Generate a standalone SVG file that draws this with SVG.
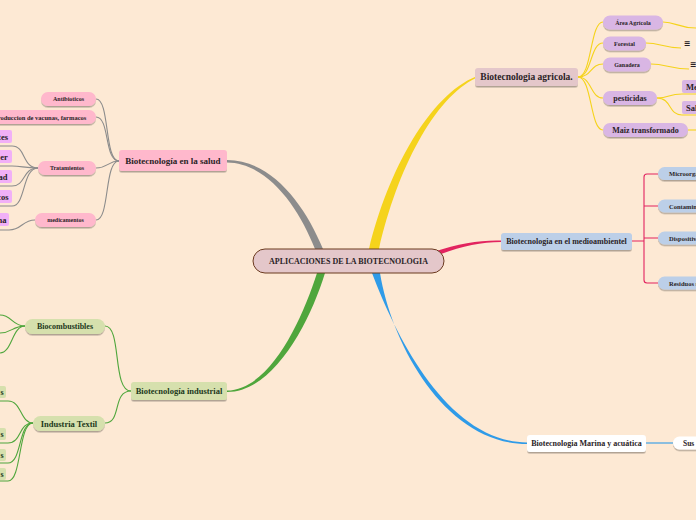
<svg xmlns="http://www.w3.org/2000/svg" width="696" height="520" viewBox="0 0 696 520">
<defs>
<filter id="sh" x="-10%" y="-30%" width="120%" height="170%">
<feDropShadow dx="0" dy="1.5" stdDeviation="0.7" flood-color="#000" flood-opacity="0.3"/>
</filter>
<style>
text{font-family:"Liberation Serif","Times New Roman",serif;font-weight:bold;text-anchor:middle;dominant-baseline:central;fill:#2a2326}
.pk{fill:#ffb8cc;filter:url(#sh)}
.vi{fill:#f1b0f7}
.gr{fill:#d6e0ad;filter:url(#sh)}
.grb{fill:#d6e0ad}
.li{fill:#d9b6e4;filter:url(#sh)}
.lib{fill:#d9b6e4}
.bl{fill:#bccfe8;filter:url(#sh)}
.wh{fill:#ffffff;filter:url(#sh)}
.mv{fill:#e4c7ca;filter:url(#sh)}
.c{fill:none;stroke-width:1.1}
.cg{stroke:#8c8c8c}
.cy{stroke:#f5d31c}
.cr{stroke:#e2245f}
.cn{stroke:#4fa63c}
.cb{stroke:#2f9be8}
.gt text{fill:#22391c}
</style>
</defs>
<rect x="0" y="0" width="696" height="520" fill="#fde9d4"/>

<g id="connectors">
<path d="M227,160 C272,160 305,205 323,249 L315,249 C299,208 268,163 227,162.5 Z" fill="#8c8c8c"/>
<path d="M369,249 C388,170 430,95 476,76.5 L476,78 C434,98 397,170 379,249 Z" fill="#f5d31c"/>
<path d="M433,252 C460,243 480,240 501,240.5 L501,242 C482,242 462,246 441,254 Z" fill="#e2245f"/>
<path d="M317,273 C302,320 270,390 227,390.5 L227,392 C274,392 310,322 325,273 Z" fill="#4fa63c"/>
<path d="M372,273 C398,342 450,442 527,442.5 L527,444 C446,444 392,346 380,273 Z" fill="#2f9be8"/>

<path class="c cg" d="M119,161 C104,161 110,99 96,99"/>
<path class="c cg" d="M119,161 C104,161 110,117 96,117"/>
<path class="c cg" d="M119,161 C108,161 108,168 96,168"/>
<path class="c cg" d="M119,161 C104,161 110,220 96,220"/>
<path class="c cg" d="M38,168 C22,168 26,146 12,146 L0,146"/>
<path class="c cg" d="M38,168 C24,168 22,166 12,166 L0,166"/>
<path class="c cg" d="M38,168 C22,168 26,186 12,186 L0,186"/>
<path class="c cg" d="M38,168 C22,168 26,206 12,206 L0,206"/>
<path class="c cg" d="M35,220 C22,220 22,230 9,230 L0,230"/>

<path class="c cn" d="M131,391 C112,391 122,326 105,326"/>
<path class="c cn" d="M131,391 C112,391 122,423 105,423"/>
<path class="c cn" d="M25,326 C12,326 12,315 0,315"/>
<path class="c cn" d="M25,326 C12,326 12,333 0,333"/>
<path class="c cn" d="M25,326 C12,326 12,353 0,353"/>
<path class="c cn" d="M33,423 C20,423 22,401 8,401 L0,401"/>
<path class="c cn" d="M33,423 C18,423 22,443 8,443 L0,443"/>
<path class="c cn" d="M33,423 C18,423 22,463 8,463 L0,463"/>
<path class="c cn" d="M33,423 C18,423 22,481 8,481 L0,481"/>

<path class="c cy" d="M578,77 C592,77 590,22 603,22"/>
<path class="c cy" d="M578,77 C592,77 590,43 603,43"/>
<path class="c cy" d="M578,77 C592,77 590,64 603,64"/>
<path class="c cy" d="M578,77 C592,77 590,98 603,98"/>
<path class="c cy" d="M578,77 C592,77 590,130 603,130"/>
<path class="c cy" d="M663,22 C676,22 678,28 696,28"/>
<path class="c cy" d="M646,43 C660,43 664,48 681,48"/>
<path class="c cy" d="M651,64 C666,64 670,69 689,69"/>
<path class="c cy" d="M657,98 C670,98 668,94 682,94 L696,94"/>
<path class="c cy" d="M657,98 C672,98 668,115 682,115 L696,115"/>
<path class="c cy" d="M688,130 L696,130"/>

<path class="c cr" d="M632,241 L644,241 M658,174 L647,174 Q644,174 644,177 L644,280 Q644,283 647,283 L658,283 M644,206 L658,206 M644,238 L658,238"/>

<path class="c cb" d="M646,443 L673,443"/>
</g>

<g id="central">
<rect x="253" y="249" width="191" height="24" rx="12" fill="#e4c7ca" stroke="#6b3a1f" stroke-width="1"/>
<text x="348.5" y="261" font-size="8">APLICACIONES DE LA BIOTECNOLOGIA</text>
</g>

<g id="salud">
<rect class="pk" x="119" y="150" width="108" height="21" rx="3"/>
<text x="173" y="161" font-size="9">Biotecnología en la salud</text>
</g>
<g id="antibioticos"><rect class="pk" x="41" y="92" width="55" height="14" rx="7"/><text x="68.5" y="99" font-size="6">Antibioticos</text></g>
<g id="vacunas"><rect class="pk" x="-20" y="110" width="116" height="14" rx="7"/><text x="40" y="117" font-size="6.5">Produccion de vacunas, farmacos</text></g>
<g id="tratamientos"><rect class="pk" x="38" y="161" width="58" height="14" rx="7"/><text x="67" y="168" font-size="6">Tratamientos</text></g>
<g id="medicamentos"><rect class="pk" x="35" y="213" width="61" height="14" rx="7"/><text x="65.5" y="220" font-size="6">medicamentos</text></g>
<g id="trat1"><rect class="vi" x="-20" y="130" width="32" height="13" rx="2"/><text x="3" y="136.5" font-size="8.5">tes</text></g>
<g id="trat2"><rect class="vi" x="-20" y="150" width="32" height="13" rx="2"/><text x="4" y="156.5" font-size="8.5">er</text></g>
<g id="trat3"><rect class="vi" x="-20" y="170" width="32" height="13" rx="2"/><text x="3" y="176.5" font-size="8.5">ad</text></g>
<g id="trat4"><rect class="vi" x="-20" y="190" width="32" height="13" rx="2"/><text x="3" y="196.5" font-size="8.5">cos</text></g>
<g id="med1"><rect class="vi" x="-20" y="213" width="29" height="13" rx="2"/><text x="2" y="219.5" font-size="8.5">na</text></g>

<g id="industrial" class="gt">
<rect class="gr" x="131" y="382" width="96" height="18" rx="3"/>
<text x="179" y="391" font-size="8.5">Biotecnología industrial</text>
</g>
<g id="biocombustibles" class="gt"><rect class="gr" x="25" y="319" width="80" height="15" rx="7.5"/><text x="65" y="326.5" font-size="8">Biocombustibles</text></g>
<g id="textil" class="gt"><rect class="gr" x="33" y="416" width="72" height="15" rx="7.5"/><text x="69" y="423.5" font-size="8.5">Industria Textil</text></g>
<g id="tex1" class="gt"><rect class="grb" x="-20" y="386" width="26" height="12" rx="2"/><text x="2" y="392" font-size="8">s</text></g>
<g id="tex2" class="gt"><rect class="grb" x="-20" y="428" width="26" height="12" rx="2"/><text x="2" y="434.5" font-size="8">s</text></g>
<g id="tex3" class="gt"><rect class="grb" x="-20" y="449" width="26" height="12" rx="2"/><text x="2" y="455" font-size="8">s</text></g>
<g id="tex4" class="gt"><rect class="grb" x="-20" y="468" width="26" height="12" rx="2"/><text x="2" y="474.5" font-size="8">s</text></g>

<g id="agricola">
<rect class="mv" x="475" y="68" width="103" height="18" rx="3"/>
<text x="526.5" y="77" font-size="9.5">Biotecnologia agricola.</text>
</g>
<g id="area"><rect class="li" x="603" y="15.5" width="60" height="14" rx="7"/><text x="633" y="22.5" font-size="6">Área Agrícola</text></g>
<g id="forestal"><rect class="li" x="603" y="36.5" width="43" height="14" rx="7"/><text x="624.5" y="43.5" font-size="6">Forestal</text></g>
<g id="ganadera"><rect class="li" x="603" y="57.5" width="48" height="14" rx="7"/><text x="627" y="64.5" font-size="6">Ganadera</text></g>
<g id="pesticidas"><rect class="li" x="603" y="91" width="54" height="14" rx="7"/><text x="630" y="98" font-size="8">pesticidas</text></g>
<g id="maiz"><rect class="li" x="603" y="123" width="85" height="14" rx="7"/><text x="645.5" y="130" font-size="8">Maiz transformado</text></g>
<g id="me"><rect class="lib" x="682" y="80" width="20" height="13" rx="2"/><text x="686" y="86.5" font-size="8.5" style="text-anchor:start">Me</text></g>
<g id="sal"><rect class="lib" x="682" y="101" width="20" height="13" rx="2"/><text x="686" y="107.5" font-size="8.5" style="text-anchor:start">Sal</text></g>
<g id="forestal-note"><text x="687" y="43" font-size="8" font-weight="normal" style="font-family:'DejaVu Sans',sans-serif">≡</text></g>
<g id="ganadera-note"><text x="693" y="64" font-size="8" font-weight="normal" style="font-family:'DejaVu Sans',sans-serif">≡</text></g>

<g id="medioambiente">
<rect class="bl" x="501" y="233" width="131" height="17" rx="3"/>
<text x="566.5" y="241.5" font-size="8">Biotecnologia en el medioambientel</text>
</g>
<g id="micro"><rect class="bl" x="658" y="167" width="50" height="13" rx="6.5"/><text x="669" y="173.5" font-size="6.5" style="text-anchor:start">Microorganismos</text></g>
<g id="contam"><rect class="bl" x="658" y="199.5" width="50" height="13" rx="6.5"/><text x="669" y="206" font-size="6.5" style="text-anchor:start">Contaminación</text></g>
<g id="dispos"><rect class="bl" x="658" y="231.5" width="50" height="13" rx="6.5"/><text x="669" y="238" font-size="6.5" style="text-anchor:start">Dispositivos</text></g>
<g id="residuos"><rect class="bl" x="658" y="276.5" width="50" height="13" rx="6.5"/><text x="669" y="283" font-size="6.5" style="text-anchor:start">Residuos sólidos</text></g>

<g id="marina">
<rect class="wh" x="527" y="435" width="119" height="17" rx="3"/>
<text x="586.5" y="443.5" font-size="8">Biotecnologia Marina y acuática</text>
</g>
<g id="sus"><rect class="wh" x="673" y="436.5" width="40" height="13" rx="6.5"/><text x="683" y="443" font-size="7.5" style="text-anchor:start">Sus</text></g>
</svg>
